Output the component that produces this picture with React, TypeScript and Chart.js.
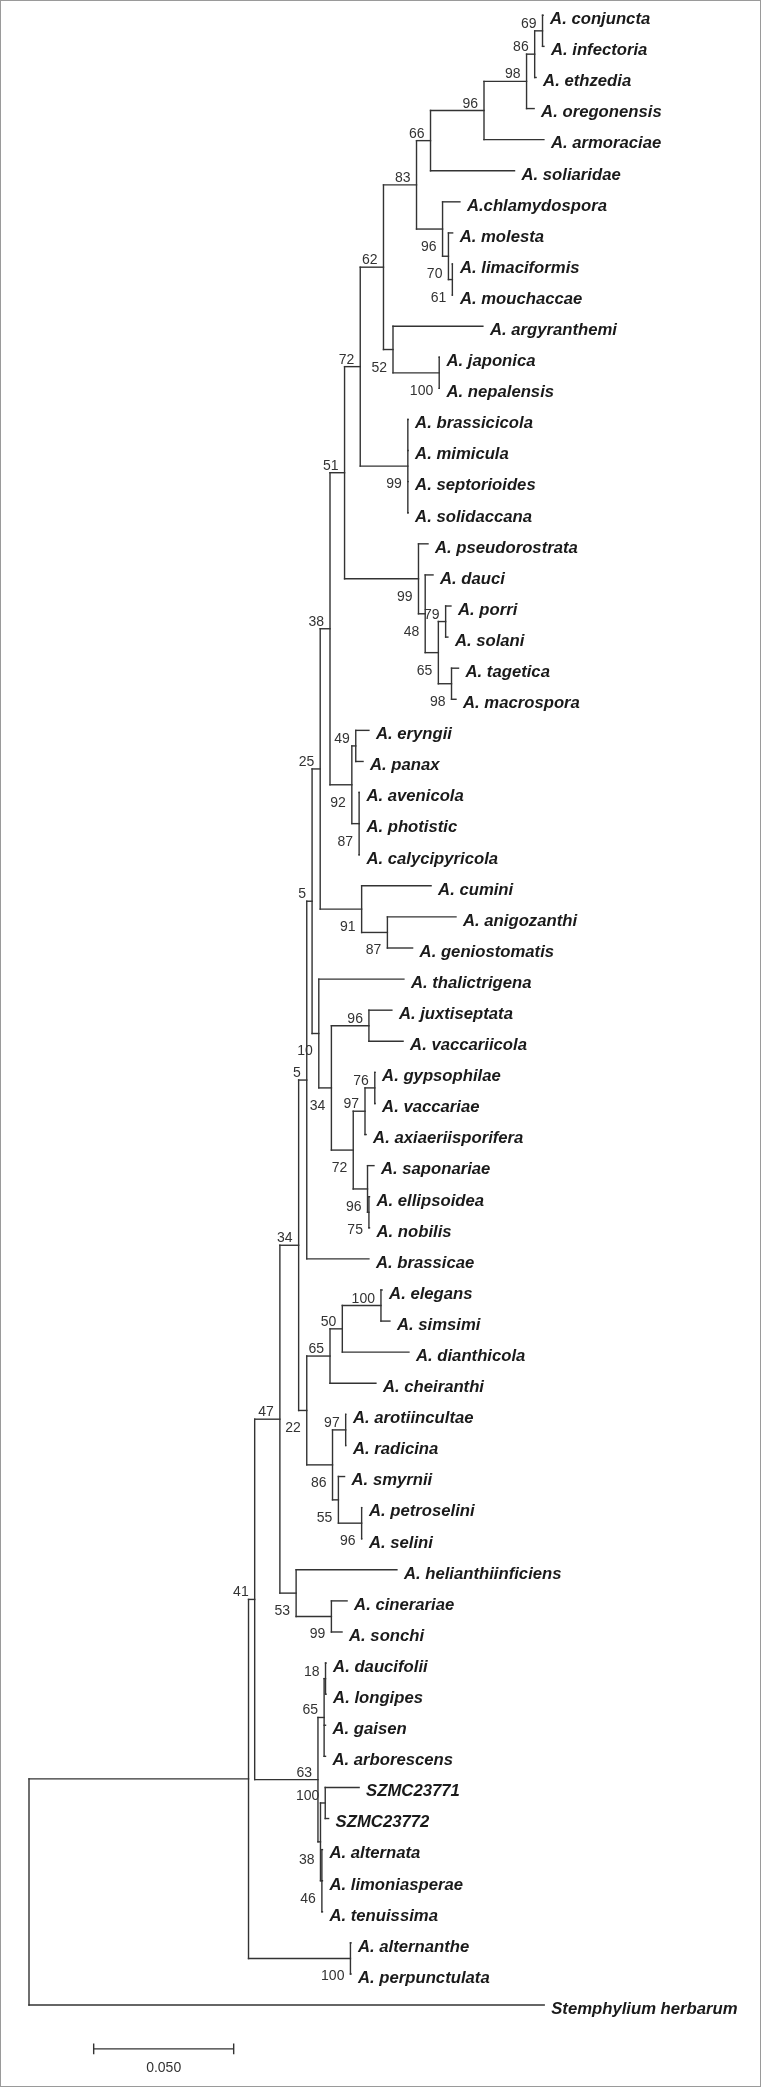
import React, { useEffect, useRef } from "react";
import { Chart, registerables } from "chart.js";

Chart.register(...registerables);

// ---------- DATA ----------
const leafNames: string[] = [
  "A. conjuncta", "A. infectoria", "A. ethzedia", "A. oregonensis", "A. armoraciae",
  "A. soliaridae", "A.chlamydospora", "A. molesta", "A. limaciformis", "A. mouchaccae",
  "A. argyranthemi", "A. japonica", "A. nepalensis", "A. brassicicola", "A. mimicula",
  "A. septorioides", "A. solidaccana", "A. pseudorostrata", "A. dauci", "A. porri",
  "A. solani", "A. tagetica", "A. macrospora", "A. eryngii", "A. panax",
  "A. avenicola", "A. photistic", "A. calycipyricola", "A. cumini", "A. anigozanthi",
  "A. geniostomatis", "A. thalictrigena", "A. juxtiseptata", "A. vaccariicola", "A. gypsophilae",
  "A. vaccariae", "A. axiaeriisporifera", "A. saponariae", "A. ellipsoidea", "A. nobilis",
  "A. brassicae", "A. elegans", "A. simsimi", "A. dianthicola", "A. cheiranthi",
  "A. arotiincultae", "A. radicina", "A. smyrnii", "A. petroselini", "A. selini",
  "A. helianthiinficiens", "A. cinerariae", "A. sonchi", "A. daucifolii", "A. longipes",
  "A. gaisen", "A. arborescens", "SZMC23771", "SZMC23772", "A. alternata",
  "A. limoniasperae", "A. tenuissima", "A. alternanthe", "A. perpunctulata", "Stemphylium herbarum",
];

// distance of each tip from the root (substitutions per site)
const leafDepth: number[] = [
  0.1836, 0.1839, 0.1811, 0.1804, 0.1839,
  0.1734, 0.1539, 0.1513, 0.1514, 0.1514,
  0.1621, 0.1466, 0.1466, 0.1354, 0.1354,
  0.1354, 0.1354, 0.1425, 0.1443, 0.1507,
  0.1496, 0.1534, 0.1525, 0.1214, 0.1193,
  0.1180, 0.1180, 0.1180, 0.1436, 0.1525,
  0.1370, 0.1339, 0.1296, 0.1336, 0.1236,
  0.1236, 0.1204, 0.1232, 0.1216, 0.1216,
  0.1214, 0.1261, 0.1289, 0.1357, 0.1239,
  0.1132, 0.1132, 0.1127, 0.1189, 0.1189,
  0.1314, 0.1136, 0.1118, 0.1061, 0.1061,
  0.1059, 0.1059, 0.1179, 0.1070, 0.1048,
  0.1048, 0.1048, 0.1150, 0.1150, 0.1840,
];

// internal nodes
const nodeIds: string[] = [
  "root", "n41", "AP", "VV", "BB", "DD", "EE", "FF", "Z", "U",
  "N", "K", "K62", "I", "E", "D", "C", "B", "A", "F",
  "G", "H", "N52", "J", "M", "P", "Q", "R", "S", "T",
  "V", "W", "X", "AA", "AB", "AD", "AE", "GG", "HH", "II",
  "KK", "JJ", "LL", "CC", "MM", "OO", "PP", "NN", "QQ", "RR",
  "SS", "TT", "UU", "WW", "XX", "ZZ", "YY", "AAA", "BBB",
];

const nodeChildren: (number | string)[][] = [
  ["n41", 64], ["VV", "AP"], [62, 63], ["BB", "WW"], ["DD", "TT"], ["EE", "CC"], ["FF", 40], ["Z", "AD"], ["U", "AA"], ["N", "V"],
  ["K", "P"], ["K62", "M"], ["I", "N52"], ["E", "F"], ["D", 5], ["C", 4], ["B", 3], ["A", 2], [0, 1], [6, "G"],
  [7, "H"], [8, 9], [10, "J"], [11, 12], [13, 14, 15, 16], [17, "Q"], [18, "R"], ["S", "T"], [19, 20], [21, 22],
  ["W", "X"], [23, 24], [25, 26, 27], [28, "AB"], [29, 30], [31, "AE"], ["GG", "HH"], [32, 33], ["II", "JJ"], ["KK", 36],
  [34, 35], [37, "LL"], [38, 39], ["MM", "NN"], ["OO", 44], ["PP", 43], [41, 42], ["QQ", "RR"], [45, 46], [47, "SS"],
  [48, 49], [50, "UU"], [51, 52], ["XX", "YY"], ["ZZ", 55, 56], [53, 54], ["AAA", "BBB"], [57, 58], [59, 60, 61],
];

const nodeDepth: number[] = [
  0, 0.0784, 0.1148, 0.0806, 0.0896, 0.0963, 0.0992, 0.1011, 0.1040, 0.1075,
  0.1127, 0.1183, 0.1266, 0.1384, 0.1434, 0.1625, 0.1777, 0.1806, 0.1834, 0.1477,
  0.1498, 0.1512, 0.1300, 0.1465, 0.1353, 0.1391, 0.1415, 0.1462, 0.1488, 0.1509,
  0.1153, 0.1167, 0.1179, 0.1188, 0.1280, 0.1035, 0.1080, 0.1214, 0.1158, 0.1200,
  0.1235, 0.1209, 0.1214, 0.0992, 0.1075, 0.1119, 0.1257, 0.1084, 0.1131, 0.1105,
  0.1188, 0.0954, 0.1080, 0.1032, 0.1054, 0.1059, 0.1041, 0.1058, 0.1046,
];

// bootstrap support (null = none)
const nodeSupport: (number | null)[] = [
  null, null, 100, 41, 47, 34, 5, 5, 25, 38,
  51, 72, 62, 83, 66, 96, 98, 86, 69, 96,
  70, 61, 52, 100, 99, 99, 48, 65, 79, 98,
  92, 49, 87, 91, 87, 10, 34, 96, 72, 97,
  76, 96, 75, 22, 65, 50, 100, 86, 97, 55,
  96, 53, 99, 63, 65, 18, 38, 100, 46,
];

// where the support value sits: "a" above the node's branch, "b" below it
const supportSide: string[] = [
  "a", "a", "b", "a", "a", "a", "a", "a", "a", "a",
  "a", "a", "a", "a", "a", "a", "a", "a", "a", "b",
  "b", "b", "b", "b", "b", "b", "b", "b", "a", "b",
  "b", "a", "b", "b", "b", "b", "b", "a", "b", "a",
  "a", "b", "b", "b", "a", "a", "a", "b", "a", "b",
  "b", "b", "b", "a", "a", "a", "b", "a", "b",
];

const scaleBarLength = 0.05;
const scaleBarLabel = "0.050";

// ---------- LAYOUT ----------
const W = 761;
const H = 2087;
const PX_PER_UNIT = 2800;
const ROOT_PX = 29;
const LEAF0_PX = 15.3;
const LEAF_STEP = 31.09;
const X_MIN = -ROOT_PX / PX_PER_UNIT;
const X_MAX = X_MIN + W / PX_PER_UNIT;
const Y_MIN = -LEAF0_PX / LEAF_STEP;
const Y_MAX = Y_MIN + H / LEAF_STEP;
const SCALE_X0 = 0.0231;
const SCALE_Y = 65.41;

const LINE_COLOR = "#333333";

function buildTree() {
  const idx: Record<string, number> = {};
  nodeIds.forEach((id, i) => (idx[id] = i));
  const nodeY: number[] = new Array(nodeIds.length).fill(NaN);
  const yOf = (c: number | string): number => {
    if (typeof c === "number") return c;
    const i = idx[c];
    if (isNaN(nodeY[i])) {
      const ch = nodeChildren[i];
      nodeY[i] = (yOf(ch[0]) + yOf(ch[ch.length - 1])) / 2;
    }
    return nodeY[i];
  };
  const dOf = (c: number | string) => (typeof c === "number" ? leafDepth[c] : nodeDepth[idx[c]]);
  const segs: { x1: number; y1: number; x2: number; y2: number }[] = [];
  nodeIds.forEach((id, i) => {
    const ch = nodeChildren[i];
    const d = nodeDepth[i];
    segs.push({ x1: d, y1: yOf(ch[0]), x2: d, y2: yOf(ch[ch.length - 1]) });
    ch.forEach((c) => {
      const y = yOf(c);
      segs.push({ x1: d, y1: y, x2: dOf(c), y2: y });
    });
  });
  return { segs, nodeY: nodeIds.map((id) => yOf(id)) };
}

export default function App() {
  const ref = useRef<HTMLCanvasElement | null>(null);
  useEffect(() => {
    if (!ref.current) return;
    const { segs, nodeY } = buildTree();
    const datasets: any[] = segs.map((s) => ({
      data: [
        { x: s.x1, y: s.y1 },
        { x: s.x2, y: s.y2 },
      ],
      showLine: true,
      borderColor: LINE_COLOR,
      borderWidth: 1.4,
      borderCapStyle: "square",
      pointRadius: 0,
      fill: false,
    }));
    // scale bar
    const tick = 0.17;
    datasets.push({
      data: [
        { x: SCALE_X0, y: SCALE_Y },
        { x: SCALE_X0 + scaleBarLength, y: SCALE_Y },
      ],
      showLine: true, borderColor: LINE_COLOR, borderWidth: 1.4, pointRadius: 0,
    });
    [SCALE_X0, SCALE_X0 + scaleBarLength].forEach((xx) =>
      datasets.push({
        data: [
          { x: xx, y: SCALE_Y - tick },
          { x: xx, y: SCALE_Y + tick },
        ],
        showLine: true, borderColor: LINE_COLOR, borderWidth: 1.4, pointRadius: 0,
      })
    );

    const textPlugin = {
      id: "treeText",
      beforeDraw(chart: any) {
        const c = chart.ctx;
        c.save();
        c.fillStyle = "#ffffff";
        c.fillRect(0, 0, chart.width, chart.height);
        c.restore();
      },
      afterDatasetsDraw(chart: any) {
        const c = chart.ctx;
        const xs = chart.scales.x;
        const ys = chart.scales.y;
        c.save();
        // leaf labels
        c.fillStyle = "#1a1a1a";
        c.font = "italic bold 16.7px 'Liberation Sans', Arial, sans-serif";
        c.textAlign = "left";
        c.textBaseline = "alphabetic";
        leafNames.forEach((name, i) => {
          const px = xs.getPixelForValue(leafDepth[i]) + 7;
          const py = ys.getPixelForValue(i) + 8.8;
          c.fillText(name, px, py);
        });
        // support values
        c.fillStyle = "#333333";
        c.font = "14px 'Liberation Sans', Arial, sans-serif";
        c.textAlign = "right";
        nodeIds.forEach((id, i) => {
          const v = nodeSupport[i];
          if (v === null) return;
          const px = xs.getPixelForValue(nodeDepth[i]) - 6;
          const py = ys.getPixelForValue(nodeY[i]) + (supportSide[i] === "a" ? -3 : 22);
          c.fillText(String(v), px, py);
        });
        // scale label
        c.textAlign = "center";
        c.font = "14px 'Liberation Sans', Arial, sans-serif";
        const sx = (xs.getPixelForValue(SCALE_X0) + xs.getPixelForValue(SCALE_X0 + scaleBarLength)) / 2;
        c.fillText(scaleBarLabel, sx, ys.getPixelForValue(SCALE_Y) + 23);
        // frame
        c.strokeStyle = "#9a9a9a";
        c.lineWidth = 1;
        c.strokeRect(0.5, 0.5, chart.width - 1, chart.height - 1);
        c.restore();
      },
    };

    const chart = new Chart(ref.current, {
      type: "scatter",
      data: { datasets },
      options: {
        responsive: false,
        animation: false,
        events: [],
        layout: { padding: 0 },
        plugins: { legend: { display: false }, tooltip: { enabled: false } },
        scales: {
          x: { type: "linear", display: false, min: X_MIN, max: X_MAX },
          y: { type: "linear", display: false, reverse: true, min: Y_MIN, max: Y_MAX },
        },
      },
      plugins: [textPlugin],
    } as any);
    return () => chart.destroy();
  }, []);

  return (
    <div style={{ position: "absolute", left: 0, top: 0, width: W, height: H }}>
      <canvas ref={ref} width={W} height={H} style={{ display: "block", width: W, height: H }} />
    </div>
  );
}
